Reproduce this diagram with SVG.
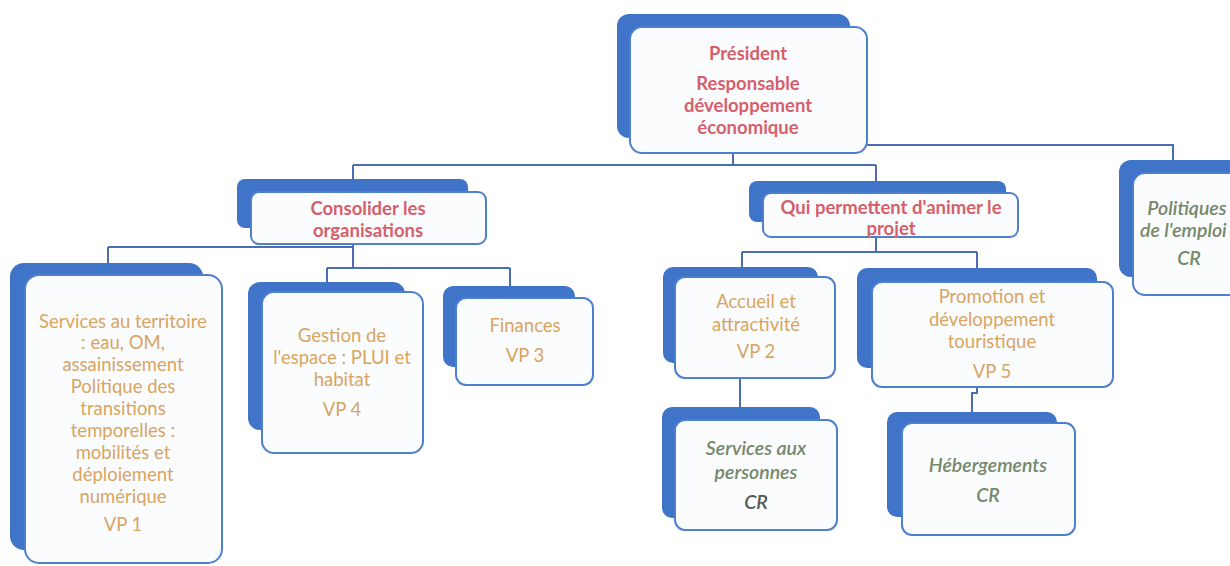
<svg xmlns="http://www.w3.org/2000/svg" width="1230" height="566" viewBox="0 0 1230 566">
<style>
.back{fill:#3f74c9;}
.front{fill:#fafcfe;stroke:#4f80cf;stroke-width:2;}
.conn{fill:none;stroke:#4a6db3;stroke-width:2;}
text{font-family:Lato,"Liberation Sans",sans-serif;text-anchor:middle;}
.t1{font-size:18.5px;font-weight:bold;fill:#d5606b;}
.t2{font-size:18.5px;fill:#d9a45f;}
.t3{font-size:19.5px;font-style:italic;font-weight:600;fill:#76886a;}
</style>
<rect width="1230" height="566" fill="#ffffff"/>
<g id="connectors">
<path class="conn" d="M733 153 V165 M353 165 H876 M353 165 V180 M876 165 V182"/>
<path class="conn" d="M867 145 H1173 V161"/>
<path class="conn" d="M108 247 H353 M108 247 V264 M353 244 V268 M327 268 H510 M327 268 V283 M510 268 V287"/>
<path class="conn" d="M876 237 V252 M742 252 H977 M742 252 V268 M977 252 V269"/>
<path class="conn" d="M740 378 V408"/>
<path class="conn" d="M977 387 V393 H972 V413"/>
</g>
<g id="president">
<rect class="back" x="617" y="14" width="233" height="124" rx="12"/>
<rect class="front" x="630" y="27" width="237" height="126" rx="12"/>
<text class="t1" x="748" y="60">Président</text>
<text class="t1" x="748" y="90">Responsable</text>
<text class="t1" x="748" y="112">développement</text>
<text class="t1" x="748" y="134">économique</text>
</g>
<g id="consolider">
<rect class="back" x="237" y="179" width="231" height="49" rx="8"/>
<rect class="front" x="251" y="192" width="235" height="52" rx="8"/>
<text class="t1" x="368" y="215">Consolider les</text>
<text class="t1" x="368" y="237">organisations</text>
</g>
<g id="animer">
<rect class="back" x="749" y="181" width="257" height="41" rx="8"/>
<rect class="front" x="763" y="193" width="255" height="44" rx="8"/>
<text class="t1" x="891" y="214">Qui permettent d'animer le</text>
<text class="t1" x="891" y="235">projet</text>
</g>
<g id="politiques">
<rect class="back" x="1119" y="160" width="140" height="117" rx="12"/>
<rect class="front" x="1133" y="173" width="140" height="122" rx="12"/>
<text class="t3" x="1187" y="215">Politiques</text>
<text class="t3" x="1140" y="237" style="text-anchor:start">de l'emploi</text>
<text class="t3" x="1189" y="265">CR</text>
</g>
<g id="services-territoire">
<rect class="back" x="10" y="263" width="193" height="287" rx="14"/>
<rect class="front" x="25" y="275" width="197" height="288" rx="14"/>
<text class="t2" x="123" y="328">Services au territoire</text>
<text class="t2" x="123" y="349">: eau, OM,</text>
<text class="t2" x="123" y="371">assainissement</text>
<text class="t2" x="123" y="393">Politique des</text>
<text class="t2" x="123" y="415">transitions</text>
<text class="t2" x="123" y="437">temporelles :</text>
<text class="t2" x="123" y="459">mobilités et</text>
<text class="t2" x="123" y="481">déploiement</text>
<text class="t2" x="123" y="503">numérique</text>
<text class="t2" x="123" y="531">VP 1</text>
</g>
<g id="gestion">
<rect class="back" x="248" y="282" width="157" height="148" rx="12"/>
<rect class="front" x="262" y="292" width="161" height="161" rx="12"/>
<text class="t2" x="342" y="342">Gestion de</text>
<text class="t2" x="342" y="364">l'espace : PLUI et</text>
<text class="t2" x="342" y="386">habitat</text>
<text class="t2" x="342" y="416">VP 4</text>
</g>
<g id="finances">
<rect class="back" x="443" y="286" width="132" height="81" rx="10"/>
<rect class="front" x="456" y="298" width="137" height="87" rx="10"/>
<text class="t2" x="525" y="332">Finances</text>
<text class="t2" x="525" y="362">VP 3</text>
</g>
<g id="accueil">
<rect class="back" x="663" y="267" width="155" height="96" rx="10"/>
<rect class="front" x="675" y="277" width="160" height="101" rx="10"/>
<text class="t2" x="756" y="308">Accueil et</text>
<text class="t2" x="756" y="331">attractivité</text>
<text class="t2" x="756" y="358">VP 2</text>
</g>
<g id="promotion">
<rect class="back" x="857" y="268" width="240" height="100" rx="10"/>
<rect class="front" x="872" y="282" width="241" height="105" rx="10"/>
<text class="t2" x="992" y="303">Promotion et</text>
<text class="t2" x="992" y="326">développement</text>
<text class="t2" x="992" y="348">touristique</text>
<text class="t2" x="992" y="378">VP 5</text>
</g>
<g id="services-personnes">
<rect class="back" x="662" y="407" width="158" height="111" rx="10"/>
<rect class="front" x="675" y="420" width="162" height="110" rx="10"/>
<text class="t3" x="756" y="455">Services aux</text>
<text class="t3" x="756" y="479">personnes</text>
<text class="t3" x="756" y="509" style="fill:#555c55">CR</text>
</g>
<g id="hebergements">
<rect class="back" x="887" y="412" width="170" height="105" rx="10"/>
<rect class="front" x="902" y="423" width="173" height="112" rx="10"/>
<text class="t3" x="988" y="472">Hébergements</text>
<text class="t3" x="988" y="502">CR</text>
</g>
</svg>
